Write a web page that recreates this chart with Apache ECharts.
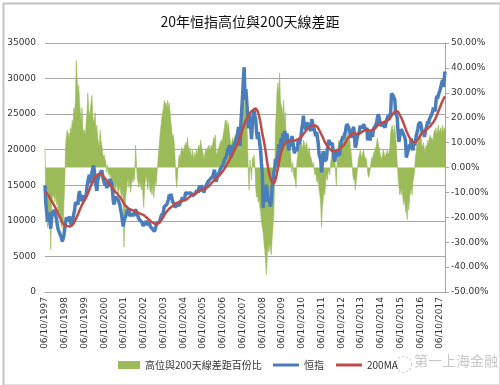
<!DOCTYPE html>
<html><head><meta charset="utf-8">
<script src="https://cdn.jsdelivr.net/npm/echarts@6/dist/echarts.min.js"></script>
<style>html,body{margin:0;padding:0;background:#fff}#c{width:500px;height:385px}</style>
</head><body><div id="c"></div>
<script>
// Semi-monthly points (~6th and ~21st of each month), Oct 1997 .. Jan 2018
const hsiRows = [
[15000,12500,11300,9900,11200,10500,9800,8900,10300,11400,11000,11600,11000,10700,10300,9400,8800,8500,8700,8400,7600,7100,7500,8000],
[7900,9800,10500,10300,10000,9800,10600,9700,9400,9700,10300,11000,11500,12600,12800,12500,12300,13600,14200,12800,12600,13300,13600,12800],
[12900,12800,13600,14800,15500,16100,16500,15300,16000,16800,17400,17800,17000,15400,15000,14200,15700,15900,16500,16600,16600,17100,16900,15700],
[15500,15000,15400,14600,15200,14900,15200,15900,16100,15300,14200,12800,12300,13100,13400,13600,13300,12900,12700,12200,12100,10900,10700,9200],
[9900,10300,10100,11000,11700,11200,11500,10700,10500,10500,11000,11000,10700,11300,11600,11500,11000,10600,10800,10100,9900,10200,9800,9300],
[9100,9500,9700,10000,10100,9400,9900,9600,9200,9300,9000,8800,8700,8500,8900,9300,9700,9600,9900,9800,10000,10600,11000,10700],
[11400,12000,12200,11900,12300,12400,13000,13700,13000,13800,13900,12700,12800,12400,11900,11700,12200,12400,12200,12200,12100,12700,13000,13300],
[13200,12900,13400,14000,14200,14200,13800,13600,13800,14000,14100,13500,13700,13600,13800,13700,13900,14300,14000,14600,14900,14400,15000,15200],
[14900,14000,14400,14700,15000,15000,15500,15300,15600,15900,15700,15800,16300,16800,17200,15800,15500,15600,16500,16500,16900,17300,17400,17300],
[17800,18200,18600,18800,19000,19400,20000,20300,20500,20600,18900,19700,20100,20300,20800,20600,20900,21800,22300,23200,22500,20500,23800,25500],
[27500,29800,31600,27000,28500,27000,26800,23000,25000,24000,23000,21500,23800,25000,25600,24800,24300,22600,21500,22500,22700,20800,19900,18000],
[16800,11800,14000,12700,13800,15100,15000,12700,13100,12900,12000,13100,14900,15300,16800,17200,18700,17900,18000,19300,20800,19900,19900,21600],
[20500,22300,21600,22600,22300,21000,22300,21200,19900,20400,20700,20900,21900,21400,20300,19500,19400,20300,19800,20600,21500,20800,21000,21900],
[22900,23600,24800,23100,23400,22800,23800,23800,23500,23200,23400,22600,24300,24100,23300,22900,22800,21900,22500,22400,20900,19400,19600,18500],
[16800,18000,19800,18300,19000,18400,18800,20100,20700,21400,20800,21000,20600,20900,21000,19000,18300,19200,19800,19000,20000,20100,19200,20700],
[20900,21500,21900,21500,22200,22500,23300,23600,23700,23100,23000,22100,21700,22000,22900,23200,22100,20300,20700,21500,22000,21900,22600,23400],
[23000,23300,23000,23600,23700,23000,22700,23100,21300,22600,22600,21300,22500,22700,21800,22900,23000,23000,23500,23800,24600,25000,25200,24000],
[23300,23100,23700,23500,23600,23100,23600,24100,24500,24800,24200,24400,25300,27900,27700,27600,27300,27000,25200,25100,24500,22400,21100,21900],
[22100,22900,22900,22300,22200,21800,21300,18900,19400,19300,20200,20700,20200,21600,20500,19900,21000,20600,20500,21900,22100,22900,23600,23500],
[23900,23400,22700,22300,22600,21800,22500,22900,23100,24000,23600,24300,24300,24100,25000,25400,25900,25700,25400,26700,27600,27200,27700,27900],
[28400,28500,28600,29800,28800,29900,31000]
];
const gapRows = [
[8,-14,-18,-24,-20,-16,-22,-33,-15,-12,-11,-12,-14,-10,-15,-13,-18,-20,-17,-22,-24,-21,-25,-14],
[-6,9,13,15,12,14,11,16,14,19,17,24,22,27,43,36,30,33,26,22,18,24,16,14],
[15,12,18,22,30,24,20,23,26,29,21,18,19,22,14,17,12,10,8,15,11,9,6,4],
[5,3,2,-2,1,-3,-1,-4,-2,-6,-4,-8,-10,-7,-9,-6,-8,-11,-9,-7,-10,-12,-9,-14],
[-32,-18,-12,-9,-6,-4,-8,-5,-10,-7,-4,-6,-3,-5,9,3,-4,-6,-8,-5,-7,-9,-6,-11],
[-16,-8,-5,-3,-6,-9,-4,-7,-10,-8,-11,-6,-12,-9,-5,-7,-3,2,6,10,14,17,20,22],
[24,27,25,26,23,27,24,26,22,18,15,12,13,10,4,-4,-8,-3,2,5,3,6,8,7],
[6,8,9,10,8,12,9,6,8,6,4,7,5,3,6,4,7,5,8,9,7,11,9,7],
[6,3,5,7,6,8,7,9,8,7,9,8,10,12,11,13,6,5,7,8,9,10,11,10],
[12,14,16,19,17,19,15,18,14,11,8,10,12,9,11,13,10,12,14,16,9,6,15,22],
[22,26,28,20,24,18,12,-2,-9,3,-1,-5,4,2,5,1,-8,-12,-10,-14,-12,-16,-18,-22],
[-22,-26,-30,-33,-38,-43,-36,-31,-34,-30,-33,-35,-28,-24,-19,-4,17,22,31,34,29,38,27,25],
[24,20,27,18,22,12,10,13,8,11,6,3,-2,2,-3,-4,-5,-8,2,5,9,8,11,10],
[9,7,11,10,8,9,10,7,6,8,5,4,3,1,2,-1,-3,-2,-5,-6,-4,-9,-11,-15],
[-24,-16,-13,-9,-11,-6,-3,-5,-2,-1,-3,2,4,6,5,3,5,-2,-7,3,8,11,9,10],
[9,11,8,13,12,15,11,14,12,10,13,8,6,2,-3,-5,-4,-9,-6,-3,1,4,5,7],
[5,4,6,7,5,3,4,2,-2,-4,-3,-1,2,4,3,6,5,8,7,10,12,9,8,6],
[6,3,5,7,6,4,5,6,7,5,6,8,14,16,17,15,13,17,12,8,2,-4,-7,-11],
[-9,-11,-8,-13,-15,-12,-18,-16,-21,-14,-17,-12,-10,-8,-11,-6,-4,-2,4,6,11,9,12,13],
[15,12,9,8,10,7,6,9,8,11,9,12,13,11,12,10,13,15,14,16,13,15,17,14],
[15,16,13,17,14,16,15]
];
// 200-day MA, monthly (Oct .. Sep rows)
const maRows = [
[14100,13900,13600,13200,12800,12400,12000,11500,11000,10500,10000,9600],
[9400,9300,9250,9200,9300,9500,9900,10400,10900,11500,12000,12500],
[12900,13300,13800,14400,15000,15500,16000,16300,16500,16600,16600,16400],
[16100,15800,15500,15200,14900,14600,14300,14000,13800,13500,13200,12800],
[12400,12100,11900,11700,11600,11500,11400,11300,11200,11100,11000,10900],
[10800,10600,10400,10200,10000,9800,9700,9600,9600,9700,9900,10200],
[10600,11000,11300,11600,11800,12000,12200,12400,12500,12600,12700,12800],
[12850,12900,13000,13200,13400,13600,13700,13800,13900,14100,14200,14300],
[14400,14500,14600,14800,15000,15300,15500,15800,16000,16200,16400,16700],
[17000,17300,17700,18100,18500,19000,19400,19900,20400,20900,21500,22100],
[22800,23500,24100,24600,25000,25300,25500,25700,25800,25500,24800,23700],
[22300,21200,19800,18200,16900,16000,15400,15300,15800,16800,18000,19200],
[20000,20600,20900,21100,21200,21300,21300,21300,21300,21400,21500,21700],
[21900,22200,22500,22800,23000,23200,23300,23400,23400,23300,23000,22600],
[22100,21600,21100,20700,20400,20100,19900,19800,19800,19900,20000,20100],
[20300,20500,20800,21200,21600,21900,22100,22300,22300,22200,22200,22300],
[22400,22600,22700,22800,22800,22700,22700,22800,22900,23100,23400,23600],
[23700,23800,23900,24000,24100,24300,24600,24900,25200,25400,25400,25100],
[24700,24200,23600,23000,22400,21900,21500,21200,21100,21100,21300,21600],
[22000,22300,22500,22700,22900,23100,23300,23600,23900,24300,24800,25400],
[26000,26600,27100,27500]
];
const leftAxis = {min:0, max:35000, step:5000};
const rightAxis = {min:-50, max:50, step:10};
const seriesNames = ['高位與200天線差距百份比','恒指','200MA'];
const titleText = '20年恒指高位與200天線差距';

const hsi = hsiRows.flat();
const gap = gapRows.flat();
const ma = maRows.flat();
const cats = hsi.map((_, k) => {
  const m = Math.floor(k / 2);
  const mi = (9 + m) % 12;
  const y = 1997 + Math.floor((9 + m) / 12);
  const d = k % 2 ? '21' : '06';
  return d + '/' + String(mi + 1).padStart(2, '0') + '/' + y;
});
const maFull = hsi.map((_, k) => (k % 2 === 0 && ma[k / 2] !== undefined) ? ma[k / 2] : null);

const GREEN = '#9BBB59', BLUE = '#4A7EBB', RED = '#BE4B48';
const axisFont = 'DejaVu Sans';
const cjk = '"Noto Sans CJK TC","Noto Sans CJK SC",sans-serif';

const chart = echarts.init(document.getElementById('c'), null, {renderer:'canvas'});
chart.setOption({
  animation:false,
  backgroundColor:'#fff',
  title:{text:titleText, left:'center', top:10,
    textStyle:{fontFamily:cjk, fontSize:14, fontWeight:'normal', color:'#111'}},
  grid:{left:45, right:55, top:43, bottom:93},
  xAxis:{type:'category', data:cats, boundaryGap:false,
    axisLine:{lineStyle:{color:'#a6a6a6', width:1}},
    axisTick:{show:false},
    axisLabel:{interval:(i)=> i % 24 === 0, rotate:90, fontSize:9, color:'#333', fontFamily:axisFont, margin:5},
    splitLine:{show:false}},
  yAxis:[
    {type:'value', min:leftAxis.min, max:leftAxis.max, interval:leftAxis.step,
     axisLine:{show:false}, axisTick:{show:false},
     axisLabel:{formatter:(v)=> String(v), fontSize:9, color:'#333', fontFamily:axisFont, margin:9},
     splitLine:{lineStyle:{color:'#a6a6a6', width:1}}},
    {type:'value', min:rightAxis.min, max:rightAxis.max, interval:rightAxis.step, position:'right',
     axisLine:{show:true, lineStyle:{color:'#a6a6a6'}},
     axisTick:{show:true, inside:false, length:4, lineStyle:{color:'#a6a6a6'}},
     axisLabel:{formatter:(v)=> v.toFixed(2) + '%', fontSize:9, color:'#333', fontFamily:axisFont, margin:6},
     splitLine:{show:false}}
  ],
  legend:[
    {data:[seriesNames[0]], left:113, top:355, itemWidth:22, itemHeight:8, icon:'rect',
     textStyle:{fontSize:10, color:'#333', fontFamily:cjk}},
    {data:[seriesNames[1], seriesNames[2]], left:268, top:355, itemWidth:26, itemHeight:3, icon:'rect', itemGap:12,
     textStyle:{fontSize:10, color:'#333', fontFamily:cjk}}
  ],
  graphic:[
    {type:'rect', left:1, top:1, shape:{x:0, y:0, width:497, height:382},
     style:{fill:null, stroke:'#c4c4c4', lineWidth:2}, silent:true},
    {type:'circle', left:393, top:354, shape:{r:8}, style:{fill:null, stroke:'#d0d0d0', lineWidth:1.2, lineDash:[2,2]}, silent:true},
    {type:'text', left:414, top:354, style:{text:'第一上海金融', fill:'#c8c8c8', font:'14px ' + cjk}, silent:true}
  ],
  series:[
    {name:seriesNames[0], type:'line', yAxisIndex:1, data:gap, symbol:'none', z:1,
     lineStyle:{width:0.6, color:GREEN}, itemStyle:{color:GREEN},
     areaStyle:{color:GREEN, opacity:1}},
    {name:seriesNames[1], type:'line', yAxisIndex:0, data:hsi, symbol:'none', z:2,
     lineStyle:{width:3.5, color:BLUE}, itemStyle:{color:BLUE}},
    {name:seriesNames[2], type:'line', yAxisIndex:0, data:maFull, connectNulls:true, smooth:0.4, symbol:'none', z:3,
     lineStyle:{width:2.5, color:RED}, itemStyle:{color:RED}}
  ]
});
</script></body></html>
